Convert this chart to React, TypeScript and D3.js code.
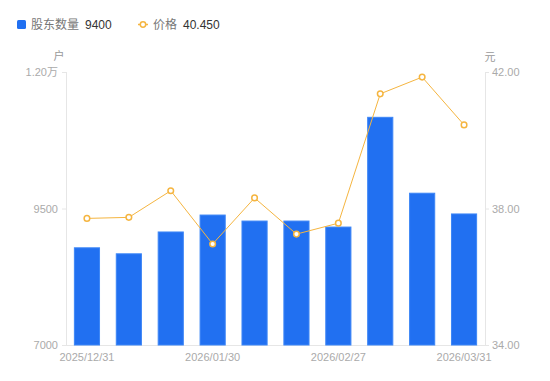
import React from "react";
import * as d3 from "d3";

const categories = [
  "2025/12/31", "2026/01/09", "2026/01/16", "2026/01/30", "2026/02/06",
  "2026/02/13", "2026/02/27", "2026/03/06", "2026/03/20", "2026/03/31",
];
const holders = [8780, 8670, 9070, 9380, 9270, 9270, 9160, 11170, 9780, 9400];
const prices = [37.71, 37.74, 38.52, 36.96, 38.31, 37.25, 37.57, 41.36, 41.85, 40.45];
const leftTicks = [7000, 9500, 12000];
const rightTicks = [34, 38, 42];
const shownLabels = ["2025/12/31", "2026/01/30", "2026/02/27", "2026/03/31"];

const W = 550, H = 381;
const M = { left: 66, right: 65, top: 72, bottom: 36 };
const FONT = "'Liberation Sans', 'Noto Sans CJK SC', Arial, sans-serif";
const BLUE = "#2170f1";
const ORANGE = "#f5b540";

export default function App() {
  const x = d3.scaleBand<string>().domain(categories).range([M.left, W - M.right]).paddingInner(0.4).paddingOuter(0.2);
  const yL = d3.scaleLinear().domain([7000, 12000]).range([H - M.bottom, M.top]);
  const yR = d3.scaleLinear().domain([34, 42]).range([H - M.bottom, M.top]);
  const cx = (c: string) => (x(c) as number) + x.bandwidth() / 2;
  const line = d3.line<number>().x((_, i) => cx(categories[i])).y((d) => yR(d));
  const bottom = H - M.bottom;
  const fmtL = (v: number) => (v >= 10000 ? (v / 10000).toFixed(2) + "万" : String(v));

  return (
    <svg width={W} height={H} style={{ position: "absolute", left: 0, top: 0, background: "#fff" }} fontFamily={FONT}>
      {/* legend */}
      <rect x={17} y={20} width={9} height={9} rx={1.5} fill={BLUE} />
      <text x={31} y={29} fontSize={12} fill="#777">股东数量</text>
      <text x={85} y={29} fontSize={12} fill="#333">9400</text>
      <line x1={138} x2={148} y1={24.5} y2={24.5} stroke={ORANGE} strokeWidth={1.5} />
      <circle cx={143} cy={24.5} r={2.7} fill="#fff" stroke={ORANGE} strokeWidth={1.5} />
      <text x={153} y={29} fontSize={12} fill="#777">价格</text>
      <text x={183} y={29} fontSize={12} fill="#333">40.450</text>

      {/* unit labels */}
      <text x={59} y={60} fontSize={11} fill="#999" textAnchor="middle">户</text>
      <text x={490} y={61} fontSize={11} fill="#999" textAnchor="middle">元</text>

      {/* axes lines */}
      <line x1={M.left + 0.5} x2={M.left + 0.5} y1={M.top} y2={bottom} stroke="#e6e6e6" />
      <line x1={W - M.right + 0.5} x2={W - M.right + 0.5} y1={M.top} y2={bottom} stroke="#e6e6e6" />
      <line x1={M.left} x2={W - M.right} y1={bottom + 0.5} y2={bottom + 0.5} stroke="#e6e6e6" />

      {leftTicks.map((t) => (
        <g key={"l" + t}>
          <line x1={M.left - 4} x2={M.left} y1={yL(t) + 0.5} y2={yL(t) + 0.5} stroke="#e6e6e6" />
          <text x={M.left - 8} y={yL(t) + 4} fontSize={11} fill="#aaa" textAnchor="end">{fmtL(t)}</text>
        </g>
      ))}
      {rightTicks.map((t) => (
        <g key={"r" + t}>
          <line x1={W - M.right} x2={W - M.right + 4} y1={yR(t) + 0.5} y2={yR(t) + 0.5} stroke="#e6e6e6" />
          <text x={W - M.right + 7} y={yR(t) + 4} fontSize={11} fill="#aaa">{t.toFixed(2)}</text>
        </g>
      ))}

      {/* bars */}
      {holders.map((v, i) => {
        const c = categories[i];
        return (
          <rect key={c} x={x(c)} y={yL(v)} width={x.bandwidth()} height={bottom - yL(v)}
            fill={BLUE} stroke="#3d86f6" strokeWidth={1} />
        );
      })}

      {/* x labels */}
      {categories.filter((c) => shownLabels.includes(c)).map((c) => (
        <text key={"x" + c} x={cx(c)} y={bottom + 16} fontSize={11} fill="#aaa" textAnchor="middle">{c}</text>
      ))}

      {/* price line */}
      <path d={line(prices) || ""} fill="none" stroke={ORANGE} strokeWidth={1} />
      {prices.map((p, i) => (
        <circle key={"p" + i} cx={cx(categories[i])} cy={yR(p)} r={2.8} fill="#fff" stroke={ORANGE} strokeWidth={1.5} />
      ))}
    </svg>
  );
}
